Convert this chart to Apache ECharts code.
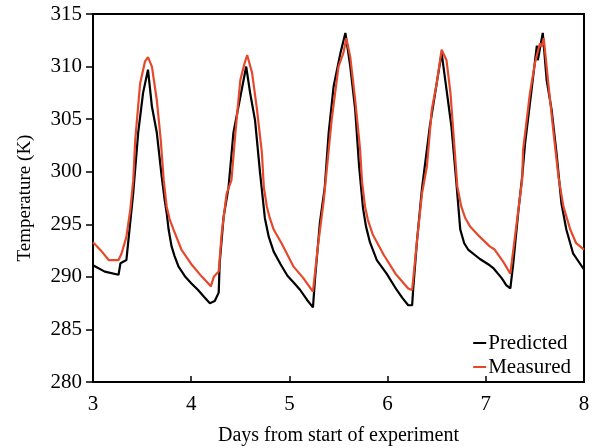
<!DOCTYPE html>
<html>
<head>
<meta charset="utf-8">
<script src="https://cdn.jsdelivr.net/npm/echarts@6/dist/echarts.min.js"></script>
<style>
  html, body { margin: 0; padding: 0; background: #fff; }
</style>
</head>
<body>
<div id="chart" style="width: 595px; height: 448px;"></div>
<script>
  // days from start, temperature (K)
  var predictedX = [3.0, 3.12, 3.26, 3.28, 3.34, 3.41, 3.46, 3.51, 3.56, 3.60, 3.65, 3.70, 3.73, 3.75, 3.77, 3.80, 3.83, 3.87, 3.94, 4.00, 4.07, 4.13, 4.19, 4.24, 4.28, 4.29, 4.33, 4.38, 4.43, 4.50, 4.56, 4.60, 4.65, 4.70, 4.75, 4.79, 4.84, 4.91, 4.98, 5.05, 5.11, 5.18, 5.24, 5.26, 5.31, 5.36, 5.40, 5.45, 5.52, 5.57, 5.62, 5.67, 5.71, 5.75, 5.78, 5.82, 5.89, 5.99, 6.09, 6.15, 6.21, 6.25, 6.26, 6.30, 6.35, 6.43, 6.50, 6.55, 6.60, 6.65, 6.70, 6.74, 6.78, 6.82, 6.94, 7.04, 7.08, 7.16, 7.21, 7.25, 7.28, 7.33, 7.37, 7.40, 7.47, 7.52, 7.53, 7.58, 7.62, 7.67, 7.72, 7.77, 7.82, 7.89, 8.0];
  var predictedY = [291.1, 290.5, 290.2, 291.3, 291.6, 298.0, 303.7, 307.5, 309.7, 306.2, 303.7, 299.5, 297.3, 296.1, 294.5, 292.9, 292.0, 291.0, 290.0, 289.4, 288.75, 288.1, 287.5, 287.7, 288.5, 291.3, 295.7, 298.5, 303.7, 307.1, 310.0, 307.5, 304.9, 300.0, 295.6, 293.8, 292.4, 291.2, 290.1, 289.4, 288.75, 287.8, 287.1, 289.7, 295.1, 298.5, 303.7, 308.1, 311.3, 313.2, 310.0, 305.9, 300.5, 296.5, 294.8, 293.3, 291.6, 290.3, 288.8, 288.0, 287.3, 287.3, 288.75, 293.5, 298.4, 304.3, 308.4, 311.3, 307.8, 304.3, 299.0, 294.5, 293.2, 292.6, 291.7, 291.1, 290.8, 289.9, 289.2, 288.9, 291.3, 296.1, 299.5, 302.7, 308.1, 312.0, 310.6, 313.2, 308.7, 305.9, 301.8, 297.0, 294.5, 292.2, 290.7];

  var measuredX = [3.0, 3.09, 3.16, 3.26, 3.29, 3.34, 3.38, 3.41, 3.43, 3.48, 3.53, 3.56, 3.60, 3.65, 3.69, 3.72, 3.75, 3.78, 3.82, 3.90, 4.01, 4.11, 4.20, 4.23, 4.28, 4.31, 4.36, 4.41, 4.45, 4.50, 4.54, 4.57, 4.62, 4.67, 4.72, 4.74, 4.77, 4.80, 4.84, 4.92, 5.04, 5.14, 5.24, 5.29, 5.35, 5.43, 5.50, 5.55, 5.58, 5.62, 5.67, 5.72, 5.74, 5.77, 5.80, 5.85, 5.96, 6.08, 6.21, 6.25, 6.30, 6.35, 6.40, 6.45, 6.50, 6.55, 6.60, 6.64, 6.67, 6.71, 6.75, 6.79, 6.84, 6.94, 7.04, 7.09, 7.18, 7.25, 7.27, 7.31, 7.37, 7.38, 7.45, 7.50, 7.55, 7.57, 7.59, 7.64, 7.69, 7.74, 7.79, 7.86, 7.92, 8.0];
  var measuredY = [293.3, 292.4, 291.6, 291.6, 292.2, 293.8, 296.4, 299.2, 303.0, 308.4, 310.5, 310.9, 310.0, 306.8, 303.0, 299.2, 296.7, 295.5, 294.5, 292.6, 291.1, 290.0, 289.1, 290.0, 290.5, 294.1, 297.9, 299.2, 303.7, 308.7, 310.2, 311.1, 309.4, 305.9, 301.8, 298.5, 296.7, 295.6, 294.5, 293.2, 291.0, 289.9, 288.6, 292.9, 297.3, 304.9, 310.0, 311.3, 312.7, 310.9, 306.8, 302.1, 299.0, 296.7, 295.4, 294.0, 292.1, 290.3, 288.9, 288.75, 293.5, 297.9, 300.5, 305.9, 308.4, 311.6, 310.6, 307.5, 303.7, 298.6, 296.7, 295.6, 294.8, 293.8, 292.9, 292.6, 291.4, 290.3, 290.2, 294.8, 299.2, 302.1, 307.5, 310.3, 312.2, 311.9, 312.7, 308.1, 303.7, 299.5, 296.7, 294.5, 293.2, 292.6];

  function pairs(xs, ys) {
    var out = [];
    for (var i = 0; i < xs.length; i++) out.push([xs[i], ys[i]]);
    return out;
  }

  var font = '"Liberation Serif", "DejaVu Serif", serif';
  var myChart = echarts.init(document.getElementById('chart'));
  myChart.setOption({
    animation: false,
    textStyle: { fontFamily: font },
    grid: {
      left: 93, right: 11, top: 14, bottom: 66,
      outerBoundsMode: 'none',
      show: true, borderColor: '#000', borderWidth: 2
    },
    legend: {
      orient: 'vertical',
      right: 24, bottom: 70,
      padding: 0,
      itemGap: 2,
      itemWidth: 13, itemHeight: 2,
      icon: 'rect',
      textStyle: { fontFamily: font, fontSize: 21, lineHeight: 22, color: '#000', padding: [0, 0, 0, -3] },
      data: ['Predicted', 'Measured']
    },
    xAxis: {
      type: 'value',
      min: 3, max: 8, interval: 1,
      name: 'Days from start of experiment',
      nameLocation: 'middle',
      nameGap: 44,
      nameTextStyle: { fontFamily: font, fontSize: 20, color: '#000' },
      axisLine: { lineStyle: { color: '#000', width: 2 } },
      axisTick: { inside: true, length: 6, lineStyle: { color: '#000', width: 1.5 } },
      axisLabel: { fontFamily: font, fontSize: 21, color: '#000', margin: 12 },
      splitLine: { show: false }
    },
    yAxis: {
      type: 'value',
      min: 280, max: 315, interval: 5,
      name: 'Temperature (K)',
      nameLocation: 'middle',
      nameGap: 58,
      nameTextStyle: { fontFamily: font, fontSize: 19, color: '#000' },
      axisLine: { show: true, lineStyle: { color: '#000', width: 2 } },
      axisTick: { show: true, length: 7, lineStyle: { color: '#000', width: 1.5 } },
      axisLabel: { fontFamily: font, fontSize: 21, color: '#000', margin: 11 },
      splitLine: { show: false }
    },
    series: [
      {
        name: 'Predicted',
        type: 'line',
        data: pairs(predictedX, predictedY),
        showSymbol: false,
        lineStyle: { color: '#000', width: 2.2 },
        itemStyle: { color: '#000' }
      },
      {
        name: 'Measured',
        type: 'line',
        data: pairs(measuredX, measuredY),
        showSymbol: false,
        lineStyle: { color: '#e5492c', width: 2.2 },
        itemStyle: { color: '#e5492c' }
      }
    ]
  });
</script>
</body>
</html>
